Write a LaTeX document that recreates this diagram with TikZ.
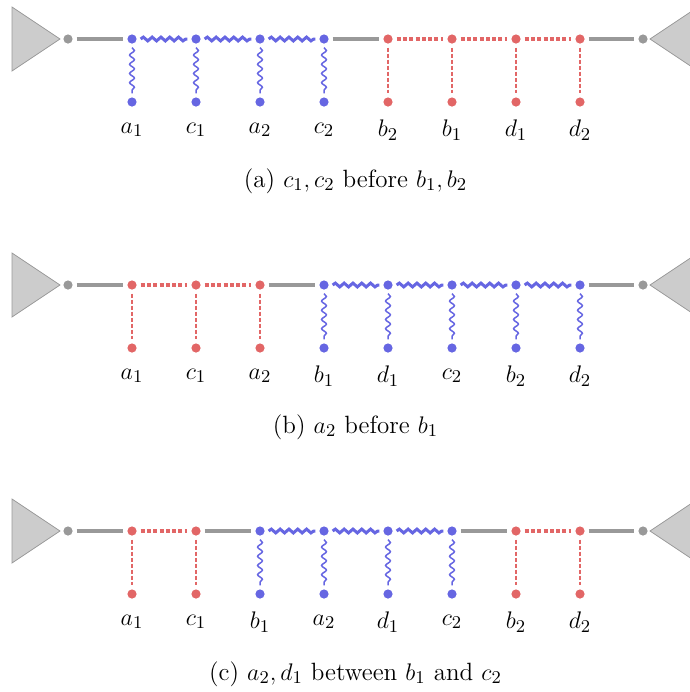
\documentclass[tikz,border=0pt]{standalone}
\usetikzlibrary{decorations.pathmorphing}
\definecolor{cblue}{RGB}{102,102,226}
\definecolor{cred}{RGB}{226,102,102}
\definecolor{cgray}{RGB}{153,153,153}
\definecolor{tri}{RGB}{204,204,204}
\tikzset{
 dotbase/.style={circle,inner sep=0pt,minimum size=4.6pt,outer sep=2pt},
 b dot/.style={dotbase,fill=cblue},
 r dot/.style={dotbase,fill=cred},
 g dot/.style={dotbase,fill=cgray},
 g hor/.style={cgray,line width=2.2pt},
 b hor/.style={cblue,line width=1.5pt,decorate,decoration={snake,amplitude=0.95pt,segment length=4.4pt}},
 r hor/.style={cred,line width=2pt,dash pattern=on 2pt off 1.15pt},
 b vert/.style={cblue,line width=0.75pt,decorate,decoration={snake,amplitude=1.2pt,segment length=4.6pt}},
 r vert/.style={cred,line width=0.8pt,dash pattern=on 2pt off 1pt},
 amp/.style={fill=tri,draw=cgray,line width=0.4pt},
 lab/.style={font=\fontsize{13}{15}\selectfont,inner sep=0pt},
 captxt/.style={font=\fontsize{12.5}{15}\selectfont,inner sep=0pt}
}
\newcommand\diagrow[4]{%
 \filldraw[amp] (12,#2-32) -- (60,#2) -- (12,#2+32) -- cycle;
 \filldraw[amp] (698,#2-32) -- (650,#2) -- (698,#2+32) -- cycle;
 \node[g dot] (#10) at (68,#2) {};
 \node[g dot] (#19) at (643,#2) {};
 \foreach \l/\s/\xx [count=\k] in {#3} {
   \node[\s\space dot] (#1\k) at (\xx,#2) {};
   \node[\s\space dot] (#1\k-b) at (\xx,#2+63) {};
   \node[lab] (#1\k-l) at (\xx,#2+91) {$\l$};
   \draw[\s\space vert] (#1\k) -- (#1\k-b);
 }
 \foreach \s [count=\k] in {#4} {
   \pgfmathtruncatemacro\j{\k-1}
   \draw[\s\space hor] (#1\j) -- (#1\k);
 }
}
\begin{document}
\begin{tikzpicture}[x=0.5pt,y=-0.5pt]
\useasboundingbox (0,0) rectangle (690,692);
\clip (0,0) rectangle (690,692);
\diagrow{A}{39}{a_1/b/132,c_1/b/196,a_2/b/260,c_2/b/324,b_2/r/388,b_1/r/452,d_1/r/516,d_2/r/580}{g,b,b,b,g,r,r,r,g}
\node[captxt] (capA) at (355.5,181) {(a) $c_1, c_2$ before $b_1, b_2$};
\diagrow{B}{285}{a_1/r/132,c_1/r/196,a_2/r/260,b_1/b/324,d_1/b/388,c_2/b/452,b_2/b/516,d_2/b/580}{g,r,r,g,b,b,b,b,g}
\node[captxt] (capB) at (355.5,427) {(b) $a_2$ before $b_1$};
\diagrow{C}{531}{a_1/r/132,c_1/r/196,b_1/b/260,a_2/b/324,d_1/b/388,c_2/b/452,b_2/r/516,d_2/r/580}{g,r,g,b,b,b,g,r,g}
\node[captxt] (capC) at (355.5,674) {(c) $a_2, d_1$ between $b_1$ and $c_2$};
\end{tikzpicture}
\end{document}
